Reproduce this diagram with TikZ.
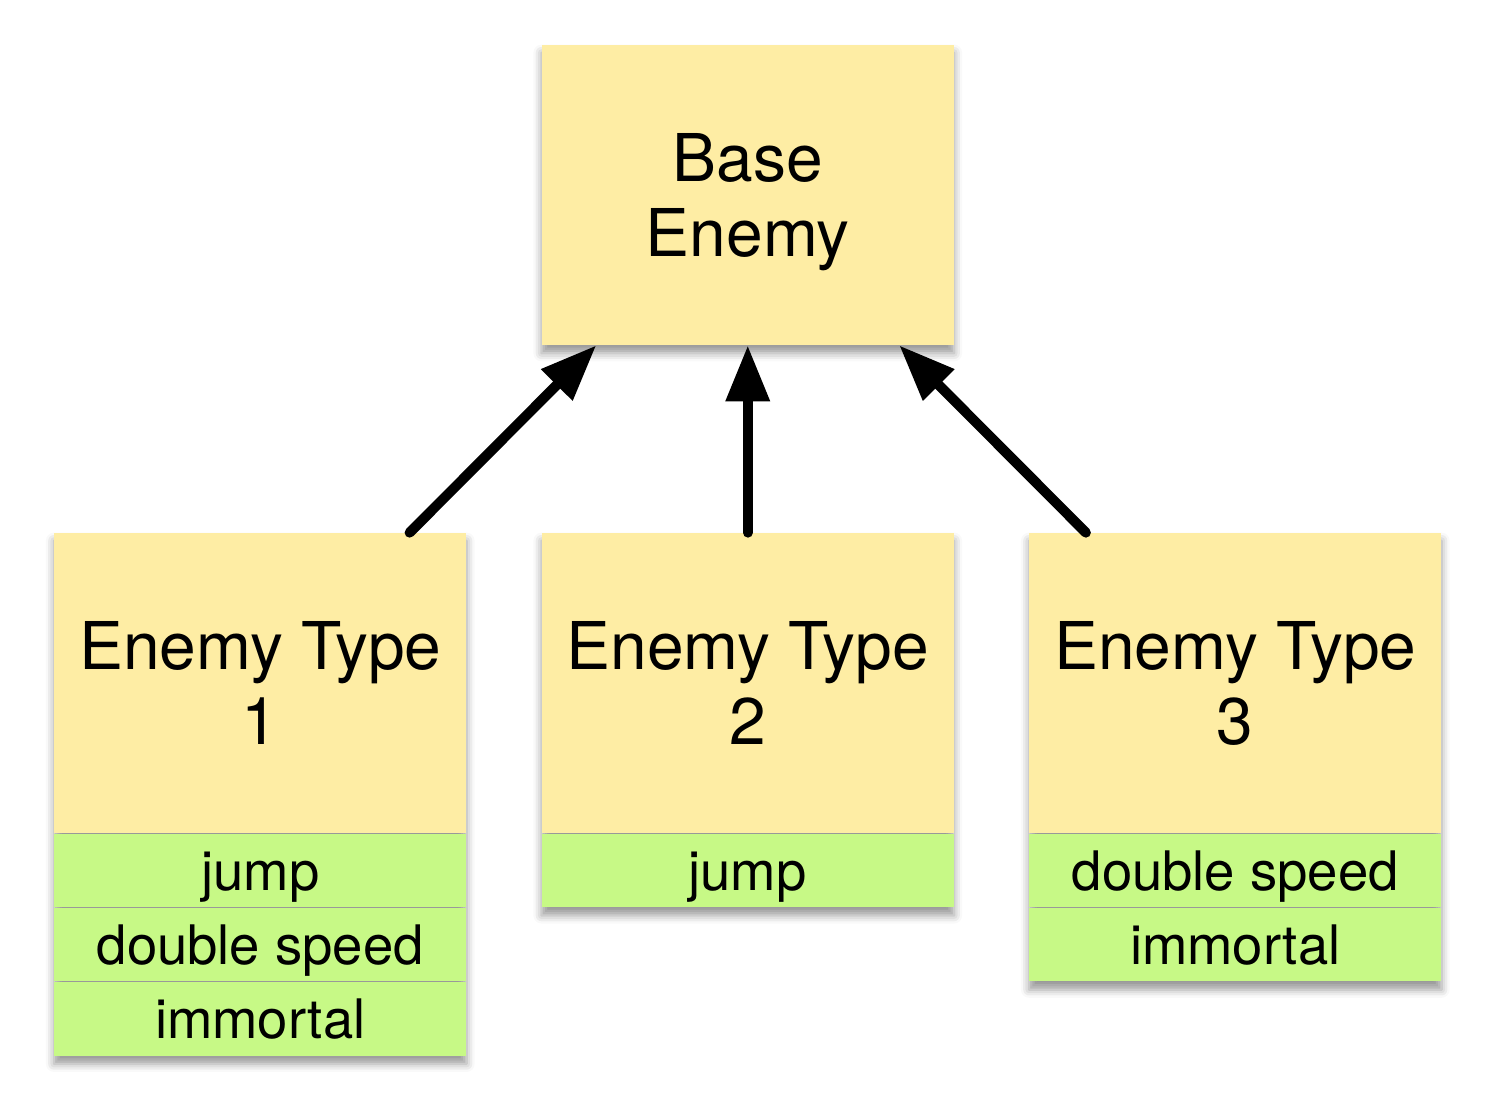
\documentclass[tikz,border=0pt]{standalone}
\usepackage{fontspec}
\setmainfont{TeX Gyre Heros}
\usepackage{tikz}
\usetikzlibrary{arrows.meta,positioning,backgrounds,shadows.blur}

\definecolor{classyellow}{RGB}{254,237,164}
\definecolor{traitgreen}{RGB}{199,249,134}

\tikzset{
    classbox/.style={rectangle, fill=classyellow, minimum width=8.24cm, minimum height=6cm,
        inner sep=0pt, align=center, text depth=0pt, font=\fontsize{37.5}{42.7}\selectfont},
    traitbox/.style={rectangle, fill=traitgreen, minimum width=8.24cm, minimum height=1.47cm,
        inner sep=0pt, text height=0.8cm, text depth=0cm, font=\fontsize{31}{37}\selectfont},
    cardshadow/.style={blur shadow={shadow xshift=0cm, shadow yshift=-0.16cm,
        shadow blur radius=0.16cm, shadow opacity=40}},
    inherits/.style={line width=0.2cm, line cap=round, -{Triangle[length=1.12cm,width=0.84cm]}}
}

\begin{document}
\begin{tikzpicture}
                    \useasboundingbox (0,0) rectangle (29.9,-22.32);

                    \node[classbox] (base) at (14.955,-3.9) {Base\\Enemy};

                    \node[classbox] (t1) at (5.205,-13.66) {Enemy Type\\1};
                    \node[traitbox, below=0pt of t1] (t1a) {jump};
                    \node[traitbox, below=0pt of t1a] (t1b) {double speed};
                    \node[traitbox, below=0pt of t1b] (t1c) {immortal};

                    \node[classbox] (t2) at (14.955,-13.66) {Enemy Type\\2};
                    \node[traitbox, below=0pt of t2] (t2a) {jump};

                    \node[classbox] (t3) at (24.705,-13.66) {Enemy Type\\3};
                    \node[traitbox, below=0pt of t3] (t3a) {double speed};
                    \node[traitbox, below=0pt of t3a] (t3b) {immortal};

                    \begin{scope}[on background layer]
                        \path[cardshadow] (base.north west) rectangle (base.south east);
                        \path[cardshadow] (t1.north west) rectangle (t1c.south east);
                        \path[cardshadow] (t2.north west) rectangle (t2a.south east);
                        \path[cardshadow] (t3.north west) rectangle (t3b.south east);
                    \end{scope}

                    \draw[inherits] ([xshift=-1.14cm]t1.north east) -- ([xshift=-3.03cm]base.south);
                    \draw[inherits] (t2.north) -- (base.south);
                    \draw[inherits] ([xshift=1.14cm]t3.north west) -- ([xshift=3.03cm]base.south);
                \end{tikzpicture}
\end{document}
